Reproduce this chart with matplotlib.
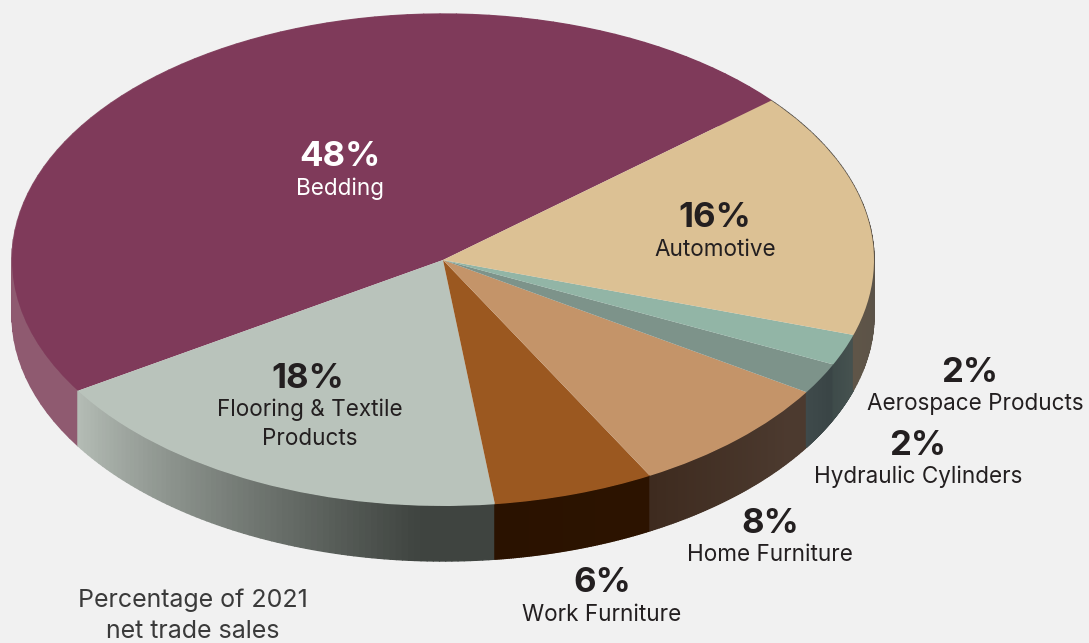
import numpy as np
import matplotlib
matplotlib.use('Agg')
import matplotlib.pyplot as plt
from matplotlib.collections import PolyCollection
from matplotlib.colors import to_rgb
from matplotlib.patches import Wedge
from matplotlib.transforms import Affine2D

categories = ['Bedding', 'Flooring & Textile\nProducts', 'Work Furniture', 'Home Furniture',
              'Hydraulic Cylinders', 'Aerospace Products', 'Automotive']
shares = [48, 18, 6, 8, 2, 2, 16]
# slice sizes as drawn in the picture, the artwork is a little off the printed numbers
drawn_shares = [47.7, 18, 6.05, 8, 2.05, 2.05, 16.15]
caption = 'Percentage of 2021\nnet trade sales'

top_colors = ['#7f3a5a', '#b9c3bb', '#9b5820', '#c49469', '#7d938a', '#92b5a6', '#dcc194']
# side colour at start and end of each slice (going anticlockwise)
side_colors = [('#7f3a5a', '#8f5a70'), ('#b4bcb5', '#3f4440'), ('#2a1200', '#2c1300'),
               ('#3e2b1f', '#4c3a2f'), ('#3f4a4b', '#3a4546'), ('#3e4b4a', '#45514f'),
               ('#5f5548', '#55504a')]
text_colors = ['white', '#231f20', '#231f20', '#231f20', '#231f20', '#231f20', '#231f20']
# label anchors in pixels: x of the percent, y of the percent, x of the name, y of the name
label_pos = [(340, 157, 340, 189), (308, 379, 310, 424), (602, 583, 602, 615), (770, 524, 770, 555),
             (918, 446, 918, 477), (970, 373, 975, 404), (715, 218, 715, 250)]

cx, cy = 443, 260
rx, ry = 431, 246
depth = 55
start_angle = 40.4

plt.rcParams['font.family'] = ['Inter', 'DejaVu Sans']

fig = plt.figure(figsize=(10.89, 6.43), dpi=100, facecolor='#f1f1f1')
ax = fig.add_axes([0, 0, 1, 1])
ax.set_xlim(0, 1089)
ax.set_ylim(643, 0)
ax.axis('off')

unit = Affine2D().scale(rx, -ry).translate(cx, cy) + ax.transData

# side wall, thin quads so the shading can run along the rim
angle = start_angle
for share, (c0, c1) in zip(drawn_shares, side_colors):
    sweep = share * 3.6
    theta = np.radians(np.linspace(angle, angle + sweep, 80))
    xs = cx + rx * np.cos(theta)
    ys = cy - ry * np.sin(theta)
    c0, c1 = np.array(to_rgb(c0)), np.array(to_rgb(c1))
    polys = []
    cols = []
    for i in range(len(theta) - 1):
        polys.append([(xs[i], ys[i]), (xs[i + 1], ys[i + 1]),
                      (xs[i + 1], ys[i + 1] + depth), (xs[i], ys[i] + depth)])
        t = min(1, i / (len(theta) - 2) / 0.85)
        cols.append(c0 + (c1 - c0) * t)
    ax.add_collection(PolyCollection(polys, facecolors=cols, edgecolors=cols, linewidths=1.0, zorder=1))
    angle += sweep

angle = start_angle
for share, color in zip(drawn_shares, top_colors):
    sweep = share * 3.6
    ax.add_patch(Wedge((0, 0), 1, angle, angle + sweep, facecolor=color, edgecolor='none',
                       transform=unit, zorder=2))
    angle += sweep

for name, share, (x1, y1, x2, y2), color in zip(categories, shares, label_pos, text_colors):
    ax.text(x1, y1, f'{share}%', ha='center', va='center', fontsize=25, fontweight='bold', color=color, zorder=3)
    ax.text(x2, y2, name, ha='center', va='center', fontsize=16.2, color=color, zorder=3, linespacing=1.44)

ax.text(193, 616, caption, ha='center', va='center', fontsize=18, color='#3a3a3a', linespacing=1.45)

fig.savefig('out.png', dpi=100, facecolor=fig.get_facecolor())
